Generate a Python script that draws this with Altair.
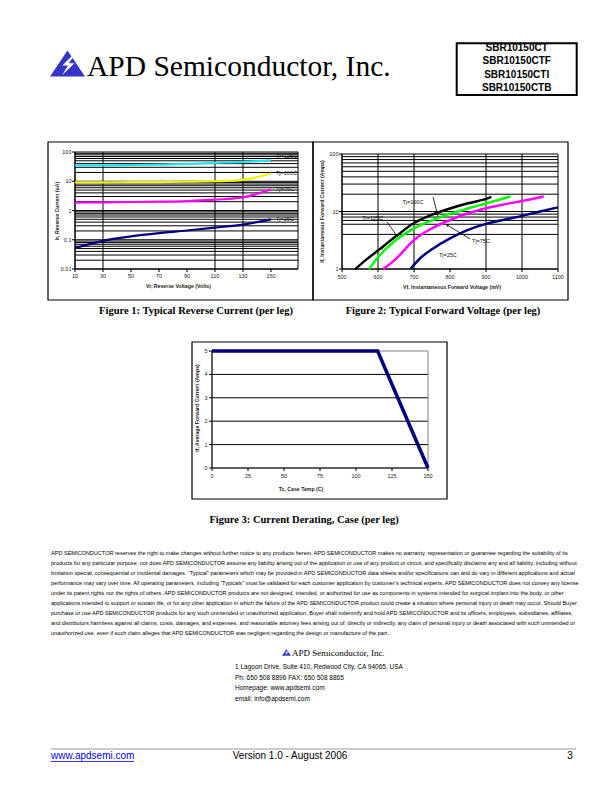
import altair as alt
import pandas as pd

# ---------------- text content ----------------
company = "APD Semiconductor, Inc."
part_numbers = ["SBR10150CT", "SBR10150CTF", "SBR10150CTI", "SBR10150CTB"]
captions = ["Figure 1: Typical Reverse Current (per leg)",
            "Figure 2: Typical Forward Voltage (per leg)",
            "Figure 3: Current Derating, Case (per leg)"]
disclaimer_lines = [
    "APD SEMICONDUCTOR reserves the right to make changes without further notice to any products herein. APD SEMICONDUCTOR makes no warranty, representation or guarantee regarding the suitability of its",
    "products for any particular purpose, nor does APD SEMICONDUCTOR assume any liability arising out of the application or use of any product or circuit, and specifically disclaims any and all liability, including without",
    "limitation special, consequential or incidental damages. \u201cTypical\u201d parameters which may be provided in APD SEMICONDUCTOR data sheets and/or specifications can and do vary in different applications and actual",
    "performance may vary over time. All operating parameters, including \u201cTypicals\u201d must be validated for each customer application by customer\u2019s technical experts. APD SEMICONDUCTOR does not convey any license",
    "under its patent rights nor the rights of others. APD SEMICONDUCTOR products are not designed, intended, or authorized for use as components in systems intended for surgical implant into the body, or other",
    "applications intended to support or sustain life, or for any other application in which the failure of the APD SEMICONDUCTOR product could create a situation where personal injury or death may occur. Should Buyer",
    "purchase or use APD SEMICONDUCTOR products for any such unintended or unauthorized application, Buyer shall indemnify and hold APD SEMICONDUCTOR and its officers, employees, subsidiaries, affiliates,",
    "and distributors harmless against all claims, costs, damages, and expenses, and reasonable attorney fees arising out of, directly or indirectly, any claim of personal injury or death associated with such unintended or",
    "unauthorized use, even if such claim alleges that APD SEMICONDUCTOR was negligent regarding the design or manufacture of the part..",
]
address_lines = ["1 Lagoon Drive, Suite 410, Redwood City, CA 94065, USA",
                 "Ph: 650 508 8896 FAX: 650 508 8865",
                 "Homepage: www.apdsemi.com",
                 "email: info@apdsemi.com"]
footer_url = "www.apdsemi.com"
footer_version = "Version 1.0 - August 2006"
footer_page = "3"

# ---------------- Figure 1: typical reverse current ----------------
fig1_x_title = "Vr, Reverse Voltage (Volts)"
fig1_y_title = "Ir, Reverse Current (uA)"
vr_volts = [10, 30, 50, 70, 90, 110, 130, 150]
ir_tj125 = [35, 35, 36, 37, 39, 42.5, 46, 52]
ir_tj100 = [9.2, 9.2, 9.3, 9.4, 9.6, 10, 11.2, 18.5]
ir_tj75 = [1.85, 1.9, 1.95, 2.0, 2.1, 2.35, 2.8, 5.3]
ir_tj25 = [0.052, 0.092, 0.13, 0.168, 0.207, 0.26, 0.33, 0.5]
fig1_labels = ["Tj=125C", "Tj=100C", "Tj=75C", "Tj=25C"]
fig1_label_ir = [72, 18.5, 5.3, 0.5]
fig1_x_ticks = [10, 30, 50, 70, 90, 110, 130, 150]
fig1_y_ticks = [0.01, 0.1, 1, 10, 100]
fig1_x_grid = [30, 110, 130]
fig1_y_grid = [0.02, 0.03, 0.04, 0.05, 0.06, 0.07, 0.08, 0.09, 0.1,
               0.2, 0.3, 0.4, 0.5, 0.6, 0.7, 0.8, 0.9, 1,
               2, 3, 4, 5, 6, 7, 8, 9, 10,
               20, 30, 40, 50, 60, 70, 80, 90]
fig1_x_domain = [10, 169.3]
fig1_y_domain = [0.01, 100]

# ---------------- Figure 2: typical forward voltage ----------------
fig2_x_title = "Vf, Instantaneous Forward  Voltage (mV)"
fig2_y_title = "If, Instantaneous Forward Current (Amps)"
vf_tj125 = [537, 570, 600, 650, 700, 750, 800, 850, 900, 915]
if_tj125 = [1.0, 1.5, 2.1, 3.7, 6.3, 8.8, 11.3, 13.9, 16.6, 18.0]
vf_tj100 = [575, 600, 650, 700, 750, 800, 850, 900, 968]
if_tj100 = [1.0, 1.6, 3.2, 5.1, 7.0, 9.1, 11.3, 13.8, 18.2]
vf_tj75 = [615, 650, 700, 750, 800, 850, 900, 950, 1000, 1060]
if_tj75 = [1.0, 1.5, 3.2, 5.1, 7.1, 9.3, 11.4, 13.3, 15.2, 18.2]
vf_tj25 = [690, 720, 750, 800, 850, 900, 950, 1000, 1050, 1100]
if_tj25 = [1.0, 1.6, 2.2, 3.4, 4.8, 6.1, 7.2, 8.4, 10.0, 11.8]
fig2_labels = ["Tj=100C", "Tj=125C", "Tj=75C", "Tj=25C"]
fig2_label_vf = [697, 585, 886, 794]
fig2_label_if = [14.6, 7.6, 3.07, 1.75]
fig2_ptr_vf0 = [753, 625, 856]
fig2_ptr_if0 = [17.9, 6.56, 3.33]
fig2_ptr_vf1 = [767, 653, 792]
fig2_ptr_if1 = [8.0, 3.75, 5.83]
fig2_x_ticks = [500, 600, 700, 800, 900, 1000, 1100]
fig2_y_ticks = [1, 10, 100]
fig2_x_grid = [600, 700, 900, 1000]
fig2_y_grid = [4, 6, 7, 8, 9, 10, 20, 30, 40, 50, 60, 70, 80, 90]
fig2_x_domain = [500, 1100]
fig2_y_domain = [1, 100]

# ---------------- Figure 3: current derating ----------------
fig3_x_title = "Tc, Case Temp (C)"
fig3_y_title = "If, Average Forward Current (Amps)"
tc_case = [0, 115, 150]
if_avg = [5, 5, 0]
fig3_x_ticks = [0, 25, 50, 75, 100, 125, 150]
fig3_y_ticks = [0, 1, 2, 3, 4, 5]
fig3_y_grid = [1, 2, 3, 4]
fig3_x_domain = [0, 150]
fig3_y_domain = [0, 5]

# ---------------- layout helpers ----------------
W, H = 596, 776
FONT = "Liberation Sans"
SERIF = "Liberation Serif"
one = pd.DataFrame({"k": [0]})


def px(v):
    return v - 8


def py(v):
    return v - 8


def text_at(x, y, txt, size, font=FONT, weight="normal", align="left",
            baseline="middle", color="#000000", angle=None):
    kw = dict(text=txt, fontSize=size, font=font, fontWeight=weight,
              align=align, baseline=baseline, color=color)
    if angle is not None:
        kw["angle"] = angle
    return alt.Chart(one).mark_text(**kw).encode(x=alt.value(px(x)), y=alt.value(py(y)))


def box(x0, y0, x1, y1, width=1.0, color="#000000"):
    return alt.Chart(one).mark_rect(fill="transparent", stroke=color, strokeWidth=width).encode(
        x=alt.value(px(x0)), x2=alt.value(px(x1)), y=alt.value(py(y0)), y2=alt.value(py(y1)))


def hline(x0, x1, y, color="#000000", width=1.0):
    return alt.Chart(one).mark_rule(color=color, strokeWidth=width).encode(
        x=alt.value(px(x0)), x2=alt.value(px(x1)), y=alt.value(py(y)))


TRI = "M0,-0.74L1,0.74L-1,0.74Z"
BOLT = "M0.32,-0.5L-0.3,0.12L0.02,0.12L-0.3,0.66L0.4,-0.02L0.08,-0.02L0.42,-0.5Z"


def logo(cx, cy, w):
    tri = alt.Chart(one).mark_point(shape=TRI, filled=True, fill="#3434C8", size=w * w,
                                    strokeWidth=0, opacity=1).encode(
        x=alt.value(px(cx)), y=alt.value(py(cy)))
    bolt = alt.Chart(one).mark_point(shape=BOLT, filled=True, fill="#FFFFFF", size=w * w,
                                     strokeWidth=0, opacity=1).encode(
        x=alt.value(px(cx)), y=alt.value(py(cy)))
    return [tri, bolt]


def build_figure(xs_list, ys_list, colors, widths, x_dom, y_dom, x_rng, y_rng, y_log,
                 x_ticks, y_ticks, x_grid, y_grid, xlab_dy, ylab_dx, interp="monotone",
                 frame_color="#000000"):
    xscale = alt.Scale(domain=x_dom, range=[px(x_rng[0]), px(x_rng[1])], nice=False, zero=False)
    if y_log:
        yscale = alt.Scale(type="log", domain=y_dom, range=[py(y_rng[0]), py(y_rng[1])], nice=False)
    else:
        yscale = alt.Scale(domain=y_dom, range=[py(y_rng[0]), py(y_rng[1])], nice=False, zero=False)

    def X(f):
        return alt.X(f, scale=xscale, axis=None)

    def Y(f):
        return alt.Y(f, scale=yscale, axis=None)

    parts = []
    if y_grid:
        gdf = pd.DataFrame({"g": y_grid, "a": x_dom[0], "b": x_dom[1]})
        parts.append(alt.Chart(gdf).mark_rule(color="#000000", strokeWidth=1).encode(
            y=Y("g:Q"), x=X("a:Q"), x2="b:Q"))
    if x_grid:
        gdf = pd.DataFrame({"g": x_grid, "a": y_dom[0], "b": y_dom[1]})
        parts.append(alt.Chart(gdf).mark_rule(color="#000000", strokeWidth=1).encode(
            x=X("g:Q"), y=Y("a:Q"), y2="b:Q"))
    fdf = pd.DataFrame({"x0": [x_dom[0]], "x1": [x_dom[1]], "y0": [y_dom[0]], "y1": [y_dom[1]]})
    parts.append(alt.Chart(fdf).mark_rect(fill="transparent", stroke=frame_color, strokeWidth=1).encode(
        x=X("x0:Q"), x2="x1:Q", y=Y("y0:Q"), y2="y1:Q"))
    # axis lines (black)
    parts.append(alt.Chart(fdf).mark_rule(color="#000000", strokeWidth=1).encode(
        x=X("x0:Q"), x2="x1:Q", y=Y("y0:Q")))
    parts.append(alt.Chart(fdf).mark_rule(color="#000000", strokeWidth=1).encode(
        x=X("x0:Q"), y=Y("y0:Q"), y2="y1:Q"))
    # ticks and tick labels
    xt = pd.DataFrame({"v": x_ticks, "b": y_dom[0]})
    yt = pd.DataFrame({"v": y_ticks, "b": x_dom[0]})
    parts.append(alt.Chart(xt).mark_tick(orient="vertical", size=3, thickness=1, yOffset=1.5,
                                         color="#000000", opacity=1).encode(x=X("v:Q"), y=Y("b:Q")))
    parts.append(alt.Chart(yt).mark_tick(orient="horizontal", size=3, thickness=1, xOffset=-1.5,
                                         color="#000000", opacity=1).encode(y=Y("v:Q"), x=X("b:Q")))
    parts.append(alt.Chart(xt).mark_text(align="center", baseline="middle", dy=xlab_dy, font=FONT,
                                         fontSize=5.5, color="#222222").encode(
        x=X("v:Q"), y=Y("b:Q"), text=alt.Text("v:Q", format="~g")))
    parts.append(alt.Chart(yt).mark_text(align="right", baseline="middle", dx=ylab_dx, font=FONT,
                                         fontSize=5.5, color="#222222").encode(
        y=Y("v:Q"), x=X("b:Q"), text=alt.Text("v:Q", format="~g")))
    for xs, ys, c, w in zip(xs_list, ys_list, colors, widths):
        df = pd.DataFrame({"x": xs, "y": ys})
        parts.append(alt.Chart(df).mark_line(color=c, strokeWidth=w, interpolate=interp,
                                             clip=True).encode(x=X("x:Q"), y=Y("y:Q")))
    return parts, X, Y


layers = []

# ---------------- header ----------------
layers += logo(67.5, 63.5, 35)
layers.append(text_at(87, 76, company, 29.5, font=SERIF, baseline="alphabetic"))
layers.append(box(456.7, 43.3, 576.7, 95, width=2))
for pn, yy in zip(part_numbers, [47.5, 61, 74.5, 88]):
    layers.append(text_at(516.7, yy, pn, 10, weight="bold", align="center"))

# ---------------- figure frames ----------------
layers.append(box(48, 142, 313, 300, width=1.2))
layers.append(box(313, 142, 568, 300, width=1.2))
layers.append(box(192, 342, 447, 499, width=1.2))

# ---------------- figure 1 ----------------
f1_parts, X1, Y1 = build_figure(
    [vr_volts] * 4, [ir_tj125, ir_tj100, ir_tj75, ir_tj25],
    ["#22E2F0", "#F2F200", "#FF00FF", "#000080"], [2.2, 2.2, 2.2, 2.2],
    fig1_x_domain, fig1_y_domain, [75, 298], [269, 152], True,
    fig1_x_ticks, fig1_y_ticks, fig1_x_grid, fig1_y_grid, 7, -3.5)
lab1 = pd.DataFrame({"x": [150] * 4, "y": fig1_label_ir, "t": fig1_labels})
f1_parts.append(alt.Chart(lab1).mark_text(align="left", baseline="middle", dx=5, font=FONT,
                                          fontSize=5.5, color="#222222").encode(
    x=X1("x:Q"), y=Y1("y:Q"), text="t:N"))
fig1 = alt.layer(*f1_parts)

# ---------------- figure 2 ----------------
f2_parts, X2, Y2 = build_figure(
    [vf_tj125, vf_tj100, vf_tj75, vf_tj25], [if_tj125, if_tj100, if_tj75, if_tj25],
    ["#000000", "#00FF00", "#FF00FF", "#000080"], [2.5, 2.5, 2.5, 2.5],
    fig2_x_domain, fig2_y_domain, [342, 558], [269, 154], True,
    fig2_x_ticks, fig2_y_ticks, fig2_x_grid, fig2_y_grid, 8, -3.5)
lab2 = pd.DataFrame({"x": fig2_label_vf, "y": fig2_label_if, "t": fig2_labels})
f2_parts.append(alt.Chart(lab2).mark_text(align="center", baseline="middle", font=FONT,
                                          fontSize=5.5, color="#111111").encode(
    x=X2("x:Q"), y=Y2("y:Q"), text="t:N"))
ptr = pd.DataFrame({"x0": fig2_ptr_vf0, "y0": fig2_ptr_if0, "x1": fig2_ptr_vf1, "y1": fig2_ptr_if1})
f2_parts.append(alt.Chart(ptr).mark_rule(color="#000000", strokeWidth=0.8).encode(
    x=X2("x0:Q"), x2="x1:Q", y=Y2("y0:Q"), y2="y1:Q"))
for k, ang in [(1, 144), (2, 301)]:
    hd = pd.DataFrame({"x": [fig2_ptr_vf1[k]], "y": [fig2_ptr_if1[k]]})
    f2_parts.append(alt.Chart(hd).mark_point(shape="triangle-up", filled=True, size=10,
                                             color="#000000", angle=ang, opacity=1).encode(
        x=X2("x:Q"), y=Y2("y:Q")))
fig2 = alt.layer(*f2_parts)

# ---------------- figure 3 ----------------
f3_parts, X3, Y3 = build_figure(
    [tc_case], [if_avg], ["#000080"], [3.5],
    fig3_x_domain, fig3_y_domain, [212, 428], [468, 351], False,
    fig3_x_ticks, fig3_y_ticks, None, fig3_y_grid, 8, -4.5, interp="linear",
    frame_color="#808080")
fig3 = alt.layer(*f3_parts)

layers += [fig1, fig2, fig3]

# ---------------- axis titles ----------------
layers.append(text_at(57, 211, fig1_y_title, 5.2, weight="bold", align="center", angle=270, color="#222222"))
layers.append(text_at(178.5, 286, fig1_x_title, 5.2, weight="bold", align="center", color="#222222"))
layers.append(text_at(322, 211.5, fig2_y_title, 5.2, weight="bold", align="center", angle=270, color="#222222"))
layers.append(text_at(452, 287, fig2_x_title, 5.2, weight="bold", align="center", color="#222222"))
layers.append(text_at(197, 408, fig3_y_title, 5.2, weight="bold", align="center", angle=270, color="#222222"))
layers.append(text_at(301, 489, fig3_x_title, 5.2, weight="bold", align="center", color="#222222"))

# ---------------- captions ----------------
layers.append(text_at(196, 311, captions[0], 10.5, font=SERIF, weight="bold", align="center"))
layers.append(text_at(443, 311, captions[1], 10.5, font=SERIF, weight="bold", align="center"))
layers.append(text_at(304, 520, captions[2], 10.5, font=SERIF, weight="bold", align="center"))

# ---------------- disclaimer ----------------
for i, line in enumerate(disclaimer_lines):
    layers.append(text_at(51, 553 + i * 9.95, line, 5.55))

# ---------------- address block ----------------
layers += logo(286.5, 652.5, 9)
layers.append(text_at(292, 652.5, company, 9, font=SERIF))
for i, line in enumerate(address_lines):
    layers.append(text_at(235, 667 + i * 10.7, line, 6.5))

# ---------------- footer ----------------
layers.append(hline(51, 576, 749, color="#9A9A9A", width=1))
layers.append(text_at(51, 756, footer_url, 10, color="#0000FF"))
layers.append(hline(51, 134, 761.5, color="#0000FF", width=0.8))
layers.append(text_at(290, 756, footer_version, 10, align="center"))
layers.append(text_at(570, 756, footer_page, 10, align="center"))

chart = alt.layer(*layers).resolve_scale(x="independent", y="independent").properties(
    width=W, height=H, autosize=alt.AutoSizeParams(type="none"), padding=0,
    background="#FFFFFF").configure_view(strokeWidth=0)

chart.save("out.html", embed_options={"renderer": "svg", "actions": False})
